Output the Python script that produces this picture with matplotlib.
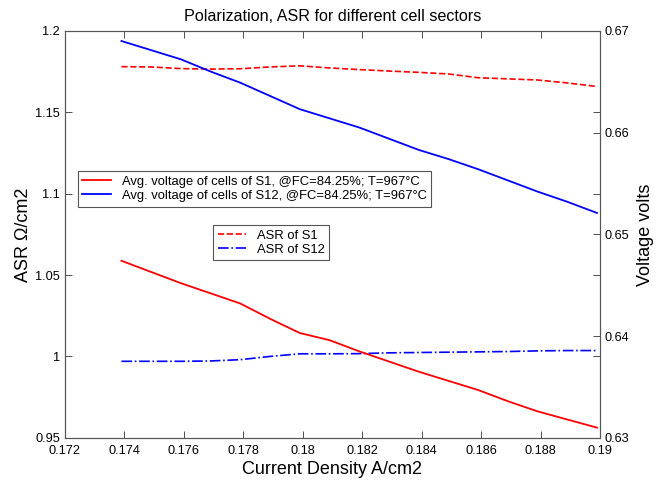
import matplotlib
matplotlib.use("Agg")
import matplotlib.pyplot as plt
from matplotlib.ticker import FixedLocator, FuncFormatter

plt.rcParams['font.family'] = ['Liberation Sans', 'DejaVu Sans']

current = [0.1739, 0.1749, 0.1759, 0.1769, 0.1779, 0.1789, 0.1799, 0.1809, 0.1819,
           0.1829, 0.1839, 0.1849, 0.1859, 0.1869, 0.1879, 0.1889, 0.1899]

volt_s1 = [0.6474, 0.6463, 0.6452, 0.6442, 0.6432, 0.6417, 0.6403, 0.6396, 0.6385,
           0.6375, 0.6365, 0.6356, 0.6347, 0.6336, 0.6326, 0.6318, 0.6310]
volt_s12 = [0.6690, 0.6681, 0.6672, 0.6660, 0.6649, 0.6636, 0.6623, 0.6614, 0.6605,
            0.6594, 0.6583, 0.6574, 0.6564, 0.6553, 0.6542, 0.6532, 0.6521]
asr_s1 = [1.1780, 1.1778, 1.1768, 1.1765, 1.1767, 1.1778, 1.1785, 1.1772, 1.1762,
          1.1753, 1.1745, 1.1735, 1.1712, 1.1705, 1.1698, 1.1680, 1.1658]
asr_s12 = [0.9970, 0.9970, 0.9970, 0.9972, 0.9980, 1.0000, 1.0016, 1.0016, 1.0017,
           1.0022, 1.0024, 1.0026, 1.0028, 1.0030, 1.0034, 1.0036, 1.0036]

x_ticks = [0.172, 0.174, 0.176, 0.178, 0.18, 0.182, 0.184, 0.186, 0.188, 0.19]
asr_ticks = [0.95, 1.0, 1.05, 1.1, 1.15, 1.2]
volt_ticks = [0.63, 0.64, 0.65, 0.66, 0.67]

title = "Polarization, ASR for different cell sectors"
volt_labels = ["Avg. voltage of cells of S1, @FC=84.25%; T=967°C",
               "Avg. voltage of cells of S12, @FC=84.25%; T=967°C"]
asr_labels = ["ASR of S1", "ASR of S12"]

fig = plt.figure(figsize=(6.65, 4.87), dpi=100)
ax = fig.add_axes([0.0977, 0.101, 0.8045, 0.8357])
ax2 = ax.twinx()

fmt = FuncFormatter(lambda v, p: "%g" % round(v, 4))

# ASR (left axis)
la1, = ax.plot(current, asr_s1, color='#ff0000', linestyle='--', linewidth=1.2)
la2, = ax.plot(current, asr_s12, color='#0000ff', linestyle='-.', linewidth=1.2)
# Voltage (right axis)
lv1, = ax2.plot(current, volt_s1, color='#ff0000', linestyle='-', linewidth=1.3)
lv2, = ax2.plot(current, volt_s12, color='#0000ff', linestyle='-', linewidth=1.3)

ax.set_xlim(0.172, 0.19)
ax.set_ylim(0.95, 1.2)
ax2.set_ylim(0.63, 0.67)

ax.xaxis.set_major_locator(FixedLocator(x_ticks))
ax.xaxis.set_major_formatter(fmt)
ax.yaxis.set_major_locator(FixedLocator(asr_ticks))
ax.yaxis.set_major_formatter(fmt)
ax2.yaxis.set_major_locator(FixedLocator(volt_ticks))
ax2.yaxis.set_major_formatter(fmt)

ax.tick_params(axis='both', direction='in', labelsize=9.2, length=5, width=0.6,
               top=True, right=True, labelright=False, colors='#333333',
               labelcolor='black')
ax.tick_params(axis='x', pad=5)
ax2.tick_params(axis='y', direction='in', labelsize=9.2, length=5, width=0.6,
                colors='#333333', labelcolor='black')

for a in (ax, ax2):
    for s in a.spines.values():
        s.set_color('#555555')
        s.set_linewidth(0.8)

ax.set_title(title, fontsize=11.6, pad=7)
ax.set_xlabel("Current Density A/cm2", fontsize=13, labelpad=3)
ax.set_ylabel("ASR Ω/cm2", fontsize=13, labelpad=2)
ax2.set_ylabel("Voltage volts", fontsize=13, labelpad=5)

leg1 = ax2.legend([lv1, lv2], volt_labels, loc='upper left',
                  bbox_to_anchor=(0.024, 0.655), borderaxespad=0, fontsize=9.4,
                  fancybox=False, framealpha=1, edgecolor='#555555',
                  handlelength=2.2, labelspacing=0.15, borderpad=0.35,
                  handletextpad=0.8)
leg1.get_frame().set_linewidth(0.8)
ax2.add_artist(leg1)
leg2 = ax2.legend([la1, la2], asr_labels, loc='upper left',
                  bbox_to_anchor=(0.277, 0.523), borderaxespad=0, fontsize=9.4,
                  fancybox=False, framealpha=1, edgecolor='#555555',
                  handlelength=2.2, labelspacing=0.15, borderpad=0.35,
                  handletextpad=0.8)
leg2.get_frame().set_linewidth(0.8)

fig.savefig("out.png", dpi=100)
